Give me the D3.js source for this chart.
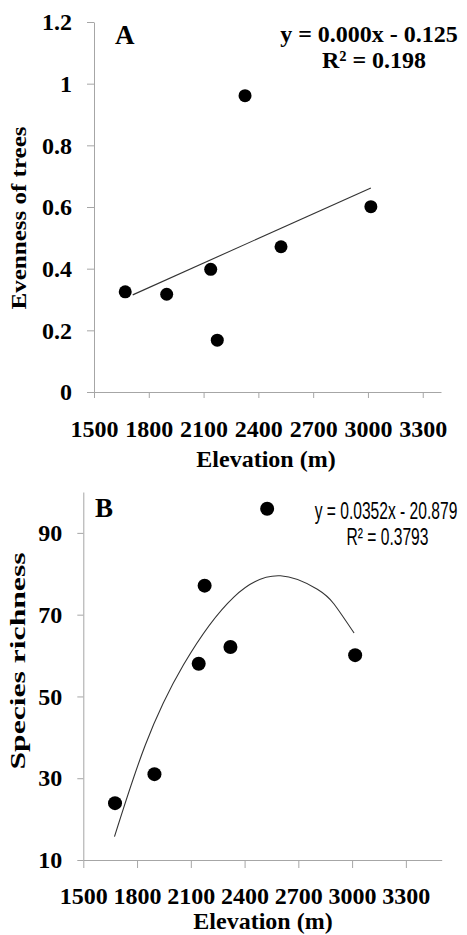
<!DOCTYPE html>
<html>
<head>
<meta charset="utf-8">
<script src="https://cdn.jsdelivr.net/npm/d3@7/dist/d3.min.js"></script>
<style>
  html, body { margin: 0; padding: 0; background: #fff; }
  svg { display: block; }
</style>
</head>
<body>
<svg id="chart" width="467" height="935"></svg>
<script>
// ---------- Data ----------
// Panel A: Evenness of trees vs elevation
const elevA = [1671, 1898, 2139, 2175, 2327, 2524, 3016];
const evenA = [0.325, 0.317, 0.398, 0.168, 0.961, 0.471, 0.601];
const trendAx = [1712, 3016];
const trendAy = [0.315, 0.662];
const yTicksA = [0, 0.2, 0.4, 0.6, 0.8, 1, 1.2];
const eqA = ["y = 0.000x - 0.125", "R\u00B2 = 0.198"];

// Panel B: Species richness vs elevation
const elevB = [1677, 1897, 2144, 2177, 2321, 2526, 3017];
const richB = [23.9, 31.0, 58.0, 77.1, 62.1, 95.9, 60.1];
const curveBx = [1674, 1845, 2060, 2340, 2600, 2806, 2899, 3011];
const curveBy = [15.7, 38.0, 57.8, 74.3, 79.5, 76.2, 72.6, 65.5];
const yTicksB = [10, 30, 50, 70, 90];
const eqB = ["y = 0.0352x - 20.879", "R\u00B2 = 0.3793"];

// Shared x ticks
const xTicks = [1500, 1800, 2100, 2400, 2700, 3000, 3300];
const xTitle = "Elevation (m)";

// ---------- Drawing ----------
const svg = d3.select("#chart");
const serif = "'Liberation Serif', 'Times New Roman', serif";
const sans = "'Liberation Sans', Arial, sans-serif";
const axisColor = "#a6a6a6";

function styleAxis(g) {
  g.select(".domain").attr("stroke", axisColor).attr("stroke-width", 1);
  g.selectAll(".tick line").attr("stroke", axisColor).attr("stroke-width", 1);
  g.selectAll(".tick text")
    .attr("fill", "#000")
    .attr("font-family", serif)
    .attr("font-weight", "bold")
    .attr("font-size", 24);
}

// ----- Panel A -----
const xA = d3.scaleLinear().domain([1500, 3400]).range([94, 441]);
const yA = d3.scaleLinear().domain([0, 1.2]).range([392, 22]);

const gA = svg.append("g");
gA.append("g")
  .attr("transform", `translate(0,${yA(0)})`)
  .call(d3.axisBottom(xA).tickValues(xTicks).tickFormat(d3.format("d"))
        .tickSize(6).tickSizeOuter(0).tickPadding(22))
  .call(styleAxis);
gA.append("g")
  .attr("transform", `translate(${xA(1500)},0)`)
  .call(d3.axisLeft(yA).tickValues(yTicksA).tickFormat(d => String(d))
        .tickSize(7).tickSizeOuter(0).tickPadding(15))
  .call(styleAxis);

// trend line
const lineA = d3.line().x(d => xA(d[0])).y(d => yA(d[1]));
gA.append("path")
  .datum(d3.zip(trendAx, trendAy))
  .attr("d", lineA)
  .attr("fill", "none")
  .attr("stroke", "#333")
  .attr("stroke-width", 1.1);

// points
gA.selectAll("circle")
  .data(d3.zip(elevA, evenA))
  .join("circle")
  .attr("cx", d => xA(d[0]))
  .attr("cy", d => yA(d[1]))
  .attr("r", 6.5)
  .attr("fill", "#000");

// labels
gA.append("text")
  .attr("x", 115).attr("y", 44)
  .attr("font-family", serif).attr("font-weight", "bold").attr("font-size", 27)
  .text("A");
gA.append("text")
  .attr("x", 369).attr("y", 42)
  .attr("text-anchor", "middle")
  .attr("font-family", serif).attr("font-weight", "bold").attr("font-size", 24)
  .text(eqA[0]);
gA.append("text")
  .attr("x", 374).attr("y", 68)
  .attr("text-anchor", "middle")
  .attr("font-family", serif).attr("font-weight", "bold").attr("font-size", 24)
  .text(eqA[1]);
gA.append("text")
  .attr("x", 266).attr("y", 467)
  .attr("text-anchor", "middle")
  .attr("font-family", serif).attr("font-weight", "bold").attr("font-size", 24)
  .text(xTitle);
gA.append("text")
  .attr("transform", "translate(26,218) rotate(-90)")
  .attr("text-anchor", "middle")
  .attr("font-family", serif).attr("font-weight", "bold").attr("font-size", 21)
  .attr("textLength", 183).attr("lengthAdjust", "spacingAndGlyphs")
  .text("Evenness of trees");

// ----- Panel B -----
const xB = d3.scaleLinear().domain([1500, 3500]).range([83.3, 441.7]);
const yB = d3.scaleLinear().domain([10, 100]).range([860, 492]);

const gB = svg.append("g");
gB.append("g")
  .attr("transform", `translate(0,${yB(10)})`)
  .call(d3.axisBottom(xB).tickValues(xTicks).tickFormat(d3.format("d"))
        .tickSize(8).tickSizeOuter(0).tickPadding(19))
  .call(styleAxis);
gB.append("g")
  .attr("transform", `translate(${xB(1500)},0)`)
  .call(d3.axisLeft(yB).tickValues(yTicksB).tickFormat(d3.format("d"))
        .tickSize(6).tickSizeOuter(0).tickPadding(15))
  .call(styleAxis);

const lineB = d3.line().x(d => xB(d[0])).y(d => yB(d[1])).curve(d3.curveNatural);
gB.append("path")
  .datum(d3.zip(curveBx, curveBy))
  .attr("d", lineB)
  .attr("fill", "none")
  .attr("stroke", "#333")
  .attr("stroke-width", 1.1);

gB.selectAll("circle")
  .data(d3.zip(elevB, richB))
  .join("circle")
  .attr("cx", d => xB(d[0]))
  .attr("cy", d => yB(d[1]))
  .attr("r", 7)
  .attr("fill", "#000");

gB.append("text")
  .attr("x", 95).attr("y", 517)
  .attr("font-family", serif).attr("font-weight", "bold").attr("font-size", 27)
  .text("B");
gB.append("g")
  .attr("transform", "translate(386,519) scale(0.65,1)")
  .append("text")
  .attr("text-anchor", "middle")
  .attr("font-family", sans).attr("font-size", 24)
  .text(eqB[0]);
gB.append("g")
  .attr("transform", "translate(387.5,545) scale(0.65,1)")
  .append("text")
  .attr("text-anchor", "middle")
  .attr("font-family", sans).attr("font-size", 24)
  .text(eqB[1]);
gB.append("text")
  .attr("x", 263).attr("y", 929)
  .attr("text-anchor", "middle")
  .attr("font-family", serif).attr("font-weight", "bold").attr("font-size", 24)
  .text(xTitle);
gB.append("text")
  .attr("transform", "translate(25,661) rotate(-90)")
  .attr("text-anchor", "middle")
  .attr("font-family", serif).attr("font-weight", "bold").attr("font-size", 21)
  .attr("textLength", 217).attr("lengthAdjust", "spacingAndGlyphs")
  .text("Species richness");
</script>
</body>
</html>
